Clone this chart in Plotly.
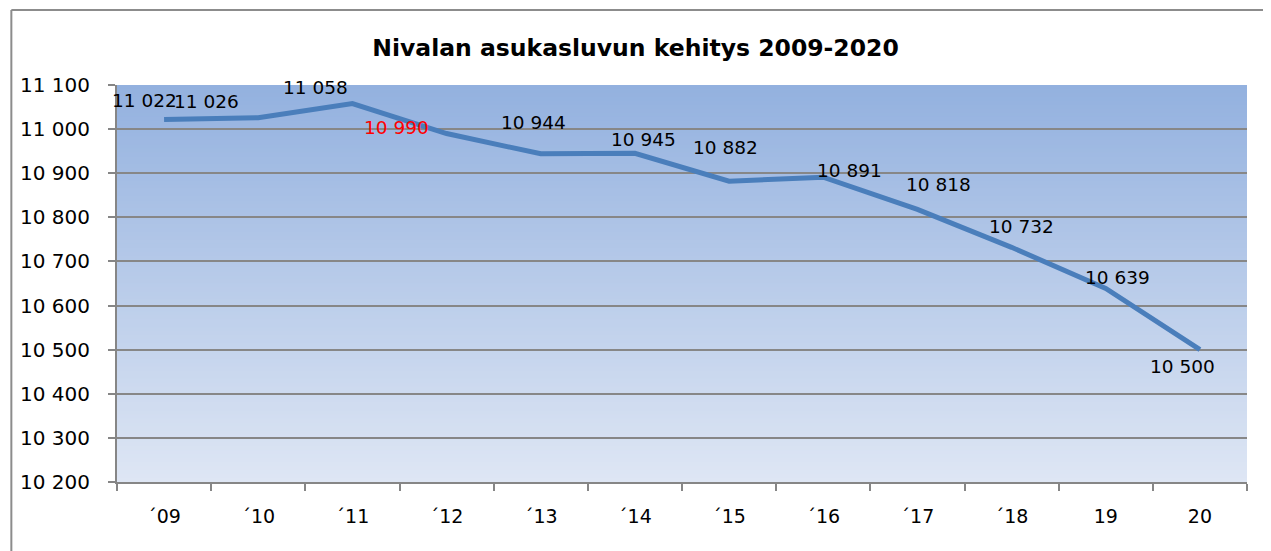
import plotly.graph_objects as go

years = ["´09", "´10", "´11", "´12", "´13", "´14", "´15", "´16", "´17", "´18", "19", "20"]
population = [11022, 11026, 11058, 10990, 10944, 10945, 10882, 10891, 10818, 10732, 10639, 10500]
label_colors = ["black", "black", "black", "red", "black", "black", "black", "black", "black", "black", "black", "black"]
# label offsets (pixels) relative to points, screen dx and dy (down positive)
label_dx = [-20, -52, -37, -50, -7, 9, -4, 26, 21, 10, 12, -17]
label_dy = [-19, -16, -16, -6, -31, -14, -34, -7, -25, -21, -11, 17]

title_text = "Nivalan asukasluvun kehitys 2009-2020"
FONT = "'DejaVu Sans', sans-serif"

fig = go.Figure()
fig.add_trace(go.Scatter(
    x=years, y=population, mode="lines",
    line=dict(color="#4a7ebb", width=5),
    hoverinfo="skip", showlegend=False,
))

for i, (yv, c, dx, dy) in enumerate(zip(population, label_colors, label_dx, label_dy)):
    fig.add_annotation(
        x=i, y=yv, xref="x", yref="y",
        text=f"{yv:,}".replace(",", " "),
        showarrow=False, xanchor="center", yanchor="middle",
        xshift=dx, yshift=-dy,
        font=dict(family=FONT, size=18.5, color=c),
    )

# vertical gradient background of the plot area
top = (147, 177, 223)
bot = (222, 230, 244)
n = 100
shapes = []
for i in range(n):
    t = i / (n - 1)
    col = tuple(round(bot[k] + (top[k] - bot[k]) * t) for k in range(3))
    shapes.append(dict(
        type="rect", xref="x domain", yref="y domain",
        x0=0, x1=1, y0=i / n, y1=min(1.0, (i + 2) / n),
        fillcolor="rgb(%d,%d,%d)" % col, line=dict(width=0), layer="below",
    ))
# outer chart frame (left and top edges visible)
shapes.append(dict(type="line", xref="paper", yref="paper",
                   x0=-0.0935, x1=-0.0935, y0=-0.3, y1=1.189,
                   line=dict(color="#8c8c8c", width=2)))
shapes.append(dict(type="line", xref="paper", yref="paper",
                   x0=-0.0935, x1=1.2, y0=1.189, y1=1.189,
                   line=dict(color="#8c8c8c", width=2)))

fig.update_layout(
    width=1263, height=543,
    margin=dict(l=105, r=24, t=77, b=69),
    paper_bgcolor="white", plot_bgcolor="#dde5f3",
    separators=", ",
    title=dict(text="<b>" + title_text + "</b>", x=(635.5 - 8) / 1263, xref="container", xanchor="center",
               y=1 - 40 / 543, yref="container", yanchor="middle",
               font=dict(family=FONT, size=23.5, color="black")),
    shapes=shapes,
    font=dict(family=FONT, color="black"),
    xaxis=dict(
        type="category", tickson="boundaries", showgrid=False,
        showline=True, linecolor="#868686", linewidth=2,
        ticks="outside", ticklen=7, tickcolor="#868686", tickwidth=2,
        tickfont=dict(family=FONT, size=19, color="black"),
        ticklabelstandoff=16, range=[-0.5, 11.5],
    ),
    yaxis=dict(
        range=[10200, 11100], dtick=100, tick0=10200, tickformat=",d",
        showgrid=True, gridcolor="#878787", gridwidth=2,
        showline=True, linecolor="#868686", linewidth=2,
        ticks="outside", ticklen=7, tickcolor="#868686", tickwidth=2,
        tickfont=dict(family=FONT, size=20, color="black"),
        ticklabelstandoff=14, zeroline=False,
    ),
)

fig.write_html("out.html")
